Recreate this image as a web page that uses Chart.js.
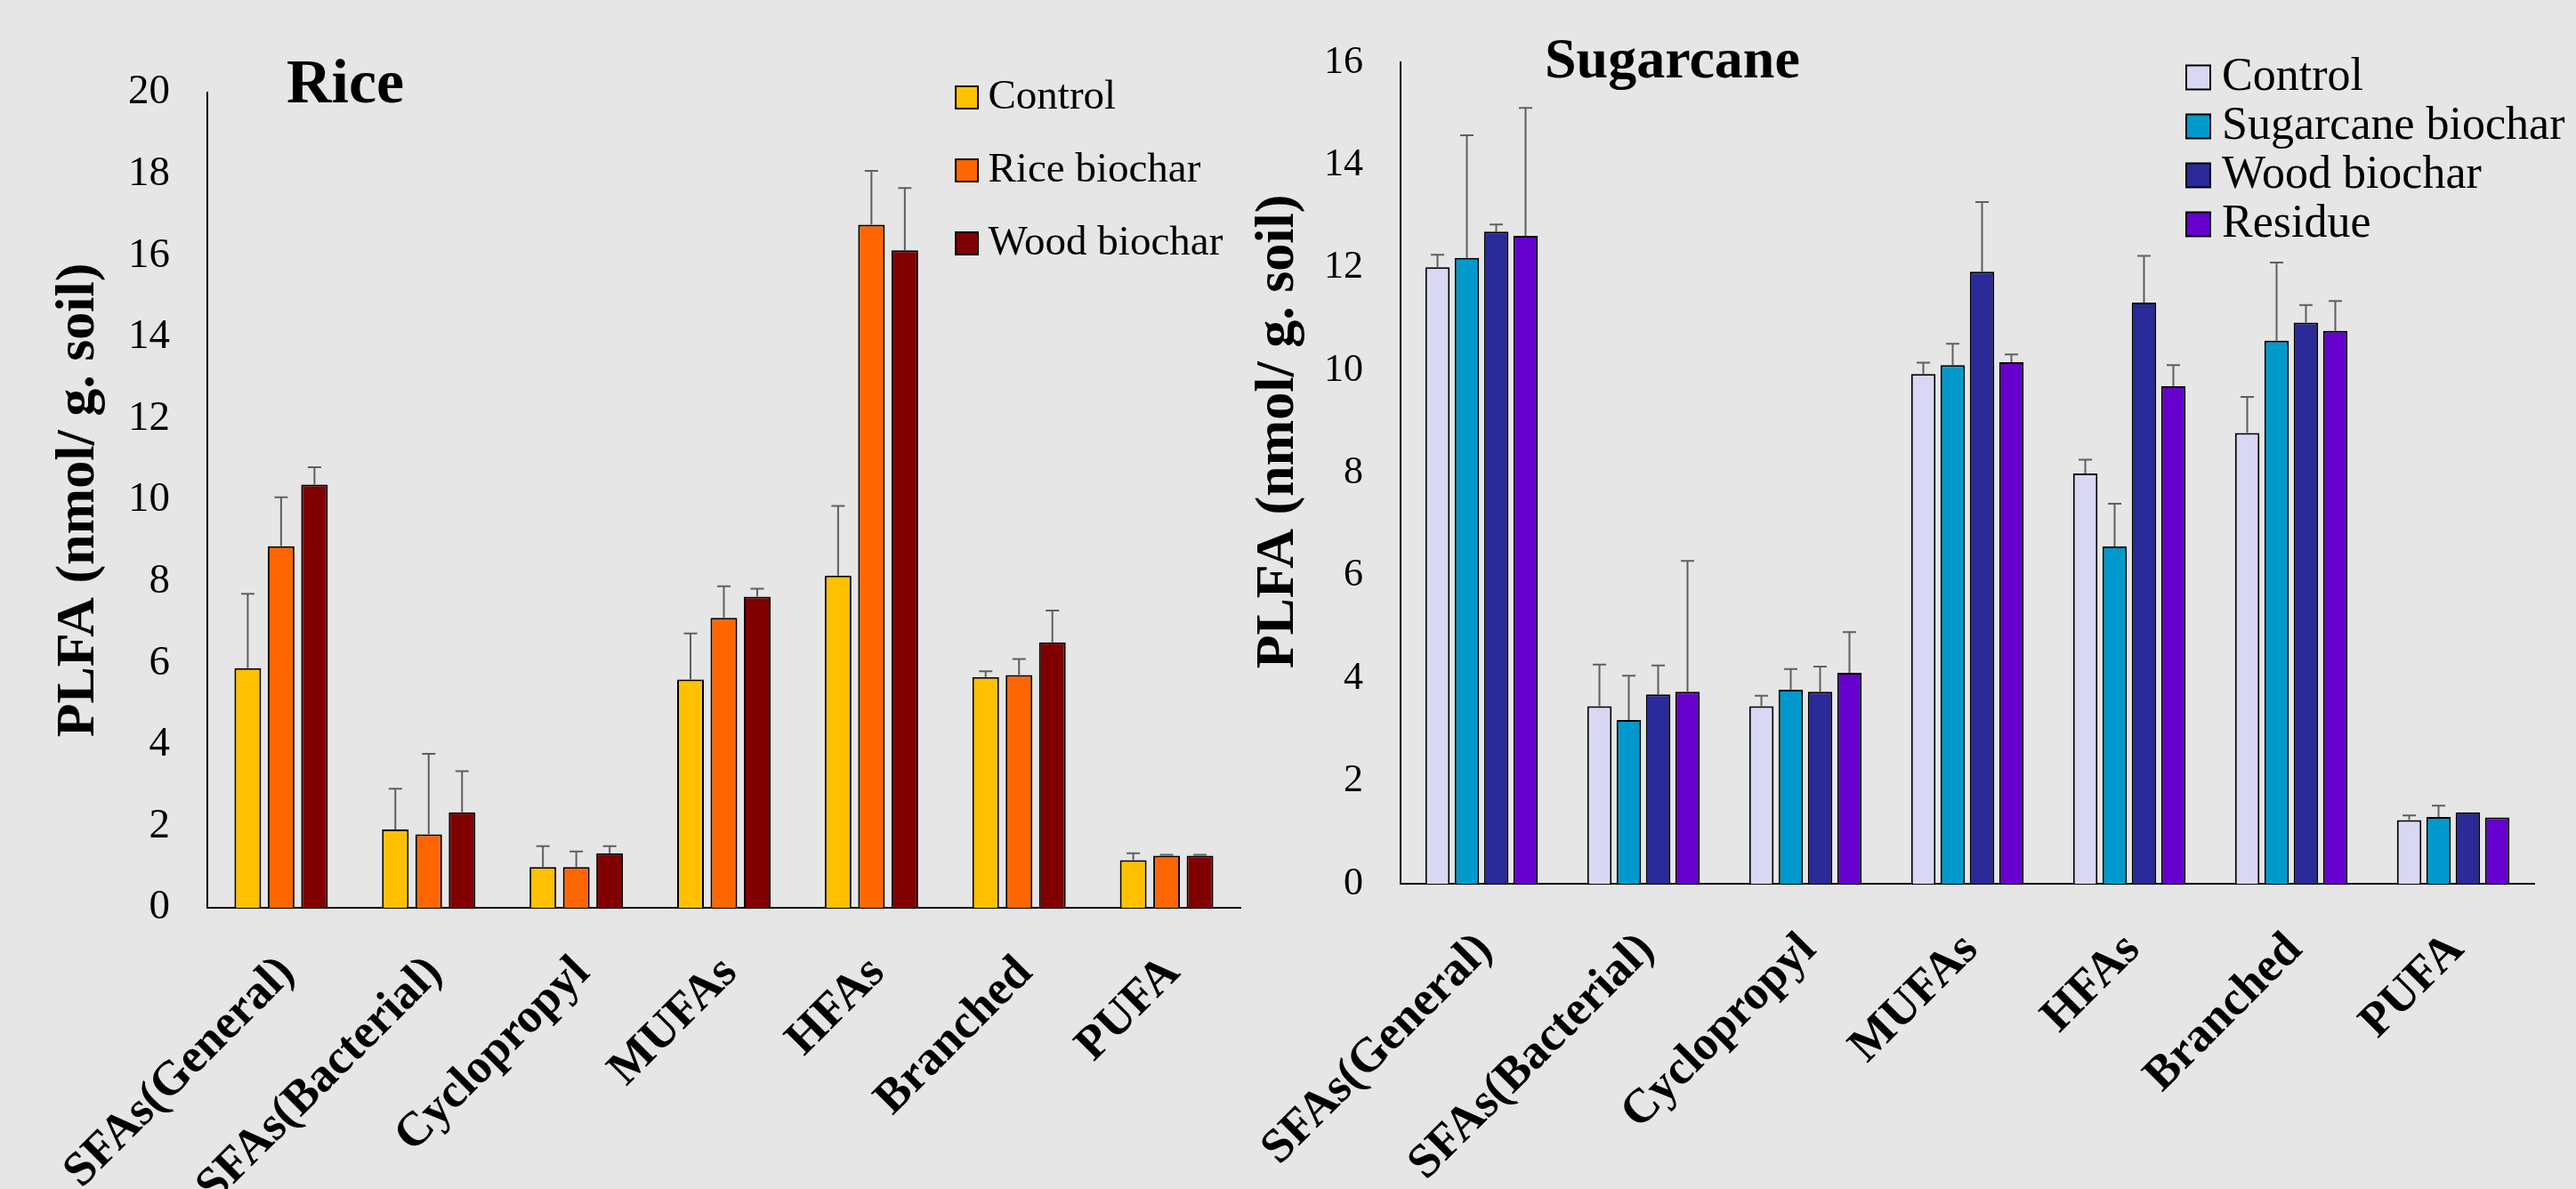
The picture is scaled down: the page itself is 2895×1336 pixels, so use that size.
<!DOCTYPE html>
<html><head><meta charset="utf-8">
<script src="https://cdn.jsdelivr.net/npm/chart.js@4.4.1/dist/chart.umd.min.js"></script>
<style>
html,body{margin:0;padding:0;background:#e6e6e6;width:2895px;height:1336px;overflow:hidden}
#c1{position:absolute;left:0;top:0}
#c2{position:absolute;left:1400px;top:0}
</style></head><body>
<canvas id="c1" width="1400" height="1336"></canvas>
<canvas id="c2" width="1495" height="1336"></canvas>
<script>
// ---------- data ----------
const categories = ['SFAs(General)','SFAs(Bacterial)','Cyclopropyl','MUFAs','HFAs','Branched','PUFA'];
const yTitle = 'PLFA (nmol/ g. soil)';

const riceTitle = 'Rice';
const riceLabels = ['Control','Rice biochar','Wood biochar'];
const riceControl     = [5.88, 1.92, 1.00, 5.60, 8.15, 5.66, 1.17];
const riceControlErr  = [1.82, 1.00, 0.51, 1.13, 1.71, 0.14, 0.17];
const riceBiochar     = [8.87, 1.80, 1.00, 7.11, 16.76, 5.71, 1.28];
const riceBiocharErr  = [1.20, 1.98, 0.38, 0.78, 1.32, 0.39, 0.02];
const riceWood        = [10.38, 2.34, 1.34, 7.63, 16.13, 6.51, 1.28];
const riceWoodErr     = [0.43, 1.01, 0.17, 0.20, 1.53, 0.78, 0.02];
const riceTicksMax = 20;

const caneTitle = 'Sugarcane';
const caneLabels = ['Control','Sugarcane biochar','Wood biochar','Residue'];
const caneControl     = [12.01, 3.46, 3.46, 9.93, 7.99, 8.78, 1.24];
const caneControlErr  = [0.24, 0.81, 0.20, 0.22, 0.27, 0.70, 0.09];
const caneBiochar     = [12.19, 3.19, 3.78, 10.10, 6.57, 10.58, 1.30];
const caneBiocharErr  = [2.39, 0.86, 0.40, 0.42, 0.83, 1.52, 0.22];
const caneWood        = [12.70, 3.69, 3.74, 11.92, 11.32, 10.93, 1.39];
const caneWoodErr     = [0.14, 0.56, 0.49, 1.36, 0.91, 0.34, 0.00];
const caneResidue     = [12.62, 3.74, 4.11, 10.16, 9.69, 10.77, 1.29];
const caneResidueErr  = [2.49, 2.55, 0.79, 0.15, 0.41, 0.58, 0.00];
const caneTicksMax = 16;

// ---------- plugins ----------
const FONT = '"Liberation Serif", "Times New Roman", serif';

const errorBars = {
  id: 'errorBars',
  afterDatasetsDraw(chart, args, opts) {
    const ctx = chart.ctx, y = chart.scales.y;
    chart.data.datasets.forEach((ds, i) => {
      const meta = chart.getDatasetMeta(i);
      if (meta.hidden) return;
      meta.data.forEach((bar, j) => {
        const sd = ds.errors[j];
        if (!sd) return;
        const v = ds.data[j];
        const top = y.getPixelForValue(v + sd);
        const base = y.getPixelForValue(v);
        ctx.save();
        ctx.strokeStyle = opts.color;
        ctx.lineWidth = opts.width;
        ctx.beginPath();
        ctx.moveTo(bar.x, base);
        ctx.lineTo(bar.x, top);
        ctx.moveTo(bar.x - opts.cap / 2, top);
        ctx.lineTo(bar.x + opts.cap / 2, top);
        ctx.stroke();
        ctx.restore();
      });
    });
  }
};

const panelTitle = {
  id: 'panelTitle',
  afterDraw(chart, args, opts) {
    const ctx = chart.ctx;
    ctx.save();
    ctx.font = opts.font;
    ctx.fillStyle = '#000';
    ctx.textAlign = 'left';
    ctx.textBaseline = 'alphabetic';
    ctx.fillText(opts.text, opts.x, opts.y);
    ctx.restore();
  }
};

// place the legend at a fixed spot inside the plot area
const legendPlace = {
  id: 'legendPlace',
  afterLayout(chart, args, opts) {
    const lg = chart.legend;
    if (!lg) return;
    const w = lg.width, h = lg.height;
    lg.left = opts.x; lg.top = opts.y;
    lg.right = opts.x + w; lg.bottom = opts.y + h;
    if (!lg._noClip) {
      lg._noClip = true;
      lg.draw = function () { if (this.options.display) this._draw(); };
    }
  }
};

function build(canvas, p) {
  return new Chart(canvas, {
    type: 'bar',
    data: {
      labels: categories,
      datasets: p.series.map((s) => ({
        label: s.label,
        data: s.data,
        errors: s.err,
        backgroundColor: s.color,
        borderColor: '#000',
        borderWidth: 2,
        barPercentage: p.barPct,
        categoryPercentage: p.catPct
      }))
    },
    plugins: [errorBars, panelTitle, legendPlace],
    options: {
      responsive: false,
      animation: false,
      devicePixelRatio: 1,
      layout: { padding: { left: 0, top: p.top, right: p.right, bottom: 0 } },
      scales: {
        x: {
          grid: { display: false, drawTicks: true, tickLength: p.xTick },
          border: { display: true, color: '#000', width: 2 },
          ticks: {
            autoSkip: false, maxRotation: 45, minRotation: 45,
            color: '#000', padding: 0, labelOffset: p.xOff,
            font: { family: FONT, size: 54, weight: 'bold' }
          },
          afterFit: (s) => { s.height = p.xHeight; }
        },
        y: {
          min: 0, max: p.max,
          grid: { display: false, drawTicks: false, tickLength: 0 },
          border: { display: true, color: '#000', width: 2 },
          ticks: {
            stepSize: 2, color: '#000', padding: 42,
            font: { family: FONT, size: p.tickSize }
          },
          title: {
            display: true, text: p.yTitle, color: '#000',
            font: { family: FONT, size: 62, weight: 'bold' },
            padding: { top: p.titlePad, bottom: 0 }
          },
          afterFit: (s) => { s.width = p.yWidth; }
        }
      },
      plugins: {
        tooltip: { enabled: false },
        title: { display: false },
        legend: {
          position: 'chartArea',
          align: 'start',
          labels: {
            usePointStyle: true, pointStyle: 'rect',
            boxWidth: 1, boxHeight: p.box,
            padding: p.legPad, color: '#000',
            font: { family: FONT, size: p.legSize }
          }
        },
        legendPlace: { x: p.legX, y: p.legY },
        panelTitle: { text: p.title, x: p.titleX, y: p.titleY, font: 'bold ' + p.titleSize + 'px ' + FONT },
        errorBars: { color: '#5f5f5f', width: 2, cap: 15 }
      }
    }
  });
}

build(document.getElementById('c1'), {
  series: [
    { label: riceLabels[0], data: riceControl, err: riceControlErr, color: '#FFC000' },
    { label: riceLabels[1], data: riceBiochar, err: riceBiocharErr, color: '#FF6600' },
    { label: riceLabels[2], data: riceWood, err: riceWoodErr, color: '#800000' }
  ],
  max: riceTicksMax, top: 104, right: 6, xHeight: 316, yWidth: 233, titlePad: 52,
  xTick: 42, xOff: 7, tickSize: 47, barPct: 0.8, catPct: 0.678,
  yTitle: yTitle,
  legX: 1051, legY: 51, legPad: 35, legSize: 47, box: 25,
  title: riceTitle, titleX: 322, titleY: 115, titleSize: 70
});

build(document.getElementById('c2'), {
  series: [
    { label: caneLabels[0], data: caneControl, err: caneControlErr, color: '#D8D8F4' },
    { label: caneLabels[1], data: caneBiochar, err: caneBiocharErr, color: '#0099CC' },
    { label: caneLabels[2], data: caneWood, err: caneWoodErr, color: '#2A2A98' },
    { label: caneLabels[3], data: caneResidue, err: caneResidueErr, color: '#6600CC' }
  ],
  max: caneTicksMax, top: 70, right: 47, xHeight: 343, yWidth: 174, titlePad: 0,
  xTick: 43, xOff: 4, tickSize: 44, barPct: 0.833, catPct: 0.725,
  yTitle: '\u00A0\u00A0\u00A0\u00A0\u00A0\u00A0' + yTitle,
  legX: 1067, legY: 58, legPad: 3, legSize: 52, box: 27,
  title: caneTitle, titleX: 336, titleY: 87, titleSize: 64
});
</script>
</body></html>
